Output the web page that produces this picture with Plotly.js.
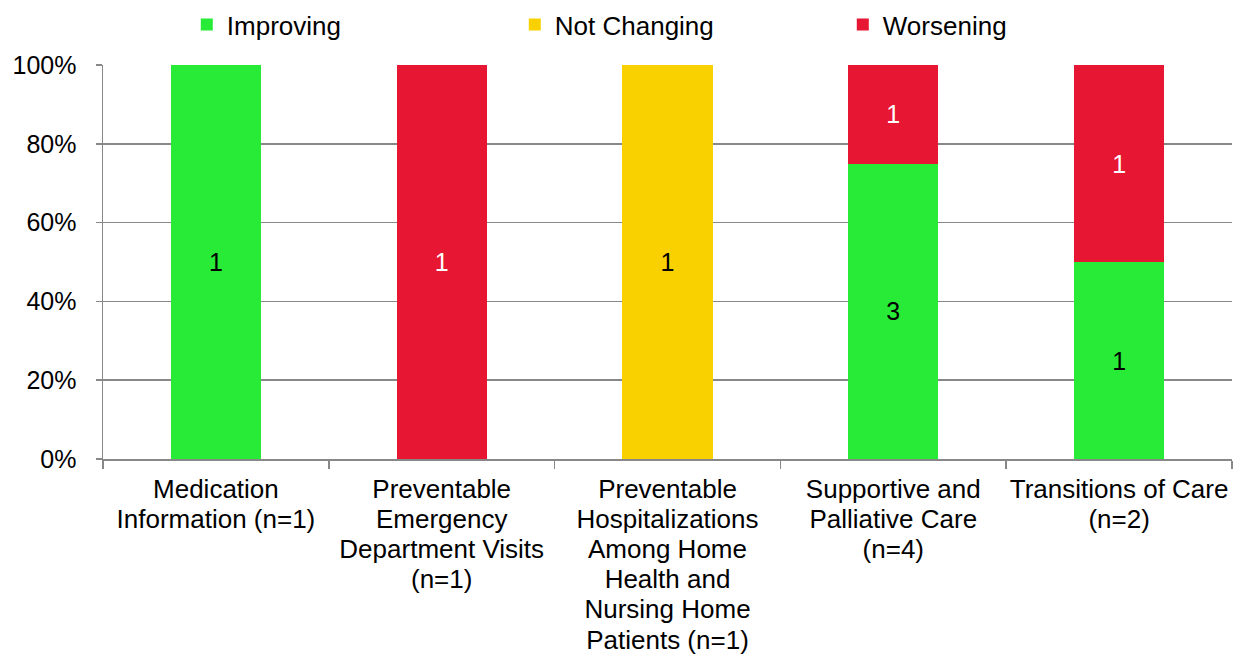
<!DOCTYPE html>
<html>
<head>
<meta charset="utf-8">
<script src="https://cdn.plot.ly/plotly-3.0.1.min.js"></script>
<style>html,body{margin:0;padding:0;background:#fff;}#chart{width:1238px;height:655px;}</style>
</head>
<body>
<div id="chart"></div>
<script>
const categories = [
  "Medication<br>Information (n=1)",
  "Preventable<br>Emergency<br>Department Visits<br>(n=1)",
  "Preventable<br>Hospitalizations<br>Among Home<br>Health and<br>Nursing Home<br>Patients (n=1)",
  "Supportive and<br>Palliative Care<br>(n=4)",
  "Transitions of Care<br>(n=2)"
];
const improving   = [1, null, null, 3, 1];
const notChanging = [null, null, 1, null, null];
const worsening   = [null, 1, null, 1, 1];

const seriesNames = ["Improving", "Not Changing", "Worsening"];
const seriesColors = ["#27EB36", "#F9D100", "#E71632"];
const textColors = ["#000000", "#000000", "#FFFFFF"];
const seriesData = [improving, notChanging, worsening];

const FONT = "Liberation Sans, Arial, sans-serif";

const traces = seriesData.map((vals, i) => ({
  type: "bar",
  name: seriesNames[i],
  x: categories,
  y: vals,
  marker: {color: seriesColors[i]},
  text: vals.map(v => v == null ? "" : String(v)),
  texttemplate: "%{text}",
  textposition: "inside",
  insidetextanchor: "middle",
  textangle: 0,
  textfont: {family: FONT, size: 25, color: textColors[i]},
  hoverinfo: "skip"
}));

const layout = {
  width: 1238, height: 655,
  margin: {l: 103, r: 6, t: 65, b: 196, autoexpand: false},
  paper_bgcolor: "#fff", plot_bgcolor: "#fff",
  barmode: "stack",
  barnorm: "percent",
  bargap: 0.6,
  font: {family: FONT, size: 26, color: "#000"},
  showlegend: true,
  legend: {
    orientation: "h", x: 0.51, xanchor: "center", y: 1.043, yanchor: "bottom",
    font: {family: FONT, size: 26, color: "#000"}, entrywidth: 283, traceorder: "normal"
  },
  xaxis: {
    type: "category",
    tickson: "boundaries",
    ticks: "outside", ticklen: 8, tickcolor: "#888", tickwidth: 1.5,
    showline: true, linecolor: "#888", linewidth: 1.5,
    showgrid: false,
    tickfont: {family: FONT, size: 26, color: "#000"},
    tickangle: 0,
    ticklabelstandoff: 6
  },
  yaxis: {
    range: [0, 100], dtick: 20, ticksuffix: "%",
    ticks: "outside", ticklen: 6, tickcolor: "#888", tickwidth: 1.5,
    showline: true, linecolor: "#888", linewidth: 1.5,
    showgrid: true, gridcolor: "#888", gridwidth: 1.5,
    zeroline: false,
    tickfont: {family: FONT, size: 25, color: "#000"},
    ticklabelstandoff: 14
  }
};

Plotly.newPlot("chart", traces, layout, {displayModeBar: false, staticPlot: true}).then(gd => {
  gd.querySelectorAll(".xtick text tspan.line").forEach(t => {
    const dy = parseFloat(t.getAttribute("dy"));
    if (!isNaN(dy)) t.setAttribute("dy", (dy / 1.3 * 1.16) + "em");
  });
});
</script>
</body>
</html>
